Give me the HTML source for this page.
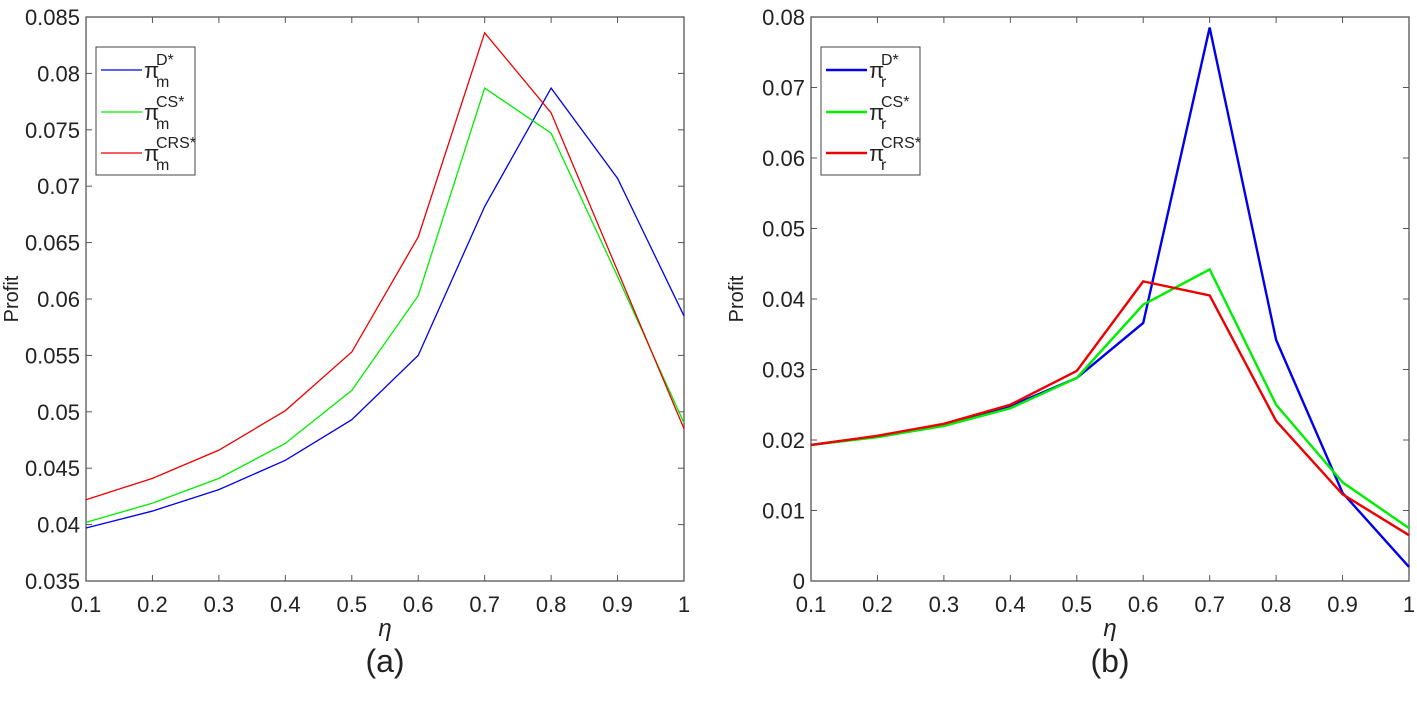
<!DOCTYPE html>
<html><head><meta charset="utf-8"><style>
body{margin:0;background:#fff;}
svg text{font-family:"Liberation Sans",sans-serif;fill:#222;}
</style></head><body>
<svg id="c" width="1417" height="701"></svg>
<script>
const xCats=[0.1,0.2,0.3,0.4,0.5,0.6,0.7,0.8,0.9,1];
const xTickLabels=["0.1","0.2","0.3","0.4","0.5","0.6","0.7","0.8","0.9","1"];
const aTicks=[0.035,0.04,0.045,0.05,0.055,0.06,0.065,0.07,0.075,0.08,0.085];
const aTickLabels=["0.035","0.04","0.045","0.05","0.055","0.06","0.065","0.07","0.075","0.08","0.085"];
const aD=[0.0397,0.0412,0.0431,0.0457,0.0493,0.0550,0.0682,0.0787,0.0707,0.0585];
const aCS=[0.0402,0.0419,0.0441,0.0472,0.0519,0.0603,0.0787,0.0747,0.0620,0.0490];
const aCRS=[0.0422,0.0441,0.0466,0.0501,0.0553,0.0655,0.0836,0.0765,0.0625,0.0485];
const bTicks=[0,0.01,0.02,0.03,0.04,0.05,0.06,0.07,0.08];
const bTickLabels=["0","0.01","0.02","0.03","0.04","0.05","0.06","0.07","0.08"];
const bD=[0.0193,0.0205,0.0222,0.0248,0.0288,0.0366,0.0785,0.0342,0.0125,0.0020];
const bCS=[0.0193,0.0204,0.0220,0.0245,0.0288,0.0392,0.0442,0.0250,0.0140,0.0075];
const bCRS=[0.0193,0.0206,0.0223,0.0250,0.0298,0.0425,0.0405,0.0227,0.0123,0.0065];

const svg=document.getElementById('c');
const NS='http://www.w3.org/2000/svg';
function mk(t,a,p){const e=document.createElementNS(NS,t);for(const k in a)e.setAttribute(k,a[k]);(p||svg).appendChild(e);return e;}

function panel(cfg){
  const g=mk('g',{});
  
  
  const L=cfg.x0,R=cfg.x1,T=17,B=581;
  const xs=v=>L+(v-0.1)/0.9*(R-L);
  const ys=v=>B-(v-cfg.ymin)/(cfg.ymax-cfg.ymin)*(B-T);
  const box=mk('rect',{x:L,y:T,width:R-L,height:B-T,fill:'none',stroke:'#555','stroke-width':1.3},g);
  
  
  xCats.forEach((v,i)=>{
    const x=xs(v);
    mk('line',{x1:x,x2:x,y1:B,y2:B-6,stroke:'#555'},g);
    mk('line',{x1:x,x2:x,y1:T,y2:T+6,stroke:'#555'},g);
    const t=mk('text',{x:x,y:B+31,'text-anchor':'middle','font-size':22},g);
    t.textContent=xTickLabels[i];
    
    
  });
  cfg.ticks.forEach((v,i)=>{
    const y=ys(v);
    mk('line',{x1:L,x2:L+6,y1:y,y2:y,stroke:'#555'},g);
    mk('line',{x1:R,x2:R-6,y1:y,y2:y,stroke:'#555'},g);
    const t=mk('text',{x:L-6,y:y+8,'text-anchor':'end','font-size':22},g);
    t.textContent=cfg.tickLabels[i];
    
    
  });
  const cols=['#0000ee','#00ee00','#ee0000'];
  cfg.series.forEach((s,k)=>{
    const p=mk('polyline',{points:s.map((v,i)=>xs(xCats[i])+','+ys(v)).join(' '),fill:'none',stroke:cols[k],'stroke-width':cfg.sw},g);
    
    
  });
  const lg=mk('g',{},g);
  
  
  mk('rect',{x:L+10,y:47,width:99,height:128,fill:'#fff',stroke:'#444','stroke-width':1},lg);
  const sups=['D*','CS*','CRS*'];
  [70,112,153].forEach((y,k)=>{
    mk('line',{x1:L+15,x2:L+56,y1:y,y2:y,stroke:cols[k],'stroke-width':cfg.sw},lg);
    const t=mk('text',{x:L+58,y:y+8,'font-size':22,'font-family':'Liberation Serif'},lg);
    t.textContent='π';
    
    
    const s=mk('text',{x:L+70,y:y-5,'font-size':16},lg);s.textContent=sups[k];
    const b=mk('text',{x:L+70,y:y+17,'font-size':16},lg);b.textContent=cfg.sub;
  });
  const yl=mk('text',{x:0,y:0,'font-size':20,'text-anchor':'middle',transform:`translate(${L-68},${(T+B)/2}) rotate(-90)`},g);
  yl.textContent='Profit';
  
  
  const xl=mk('text',{x:(L+R)/2,y:636,'font-size':24,'text-anchor':'middle','font-style':'italic','font-family':'Liberation Serif'},g);
  xl.textContent='η';
  
  
  const cap=mk('text',{x:(L+R)/2,y:672,'font-size':32,'text-anchor':'middle'},g);
  cap.textContent=cfg.cap;
  
  
}
panel({name:'panel-a',x0:86,x1:684,ymin:0.035,ymax:0.085,ticks:aTicks,tickLabels:aTickLabels,series:[aD,aCS,aCRS],sub:'m',cap:'(a)',sw:1.3});
panel({name:'panel-b',x0:811,x1:1409,ymin:0,ymax:0.08,ticks:bTicks,tickLabels:bTickLabels,series:[bD,bCS,bCRS],sub:'r',cap:'(b)',sw:2.4});
</script>
</body></html>
